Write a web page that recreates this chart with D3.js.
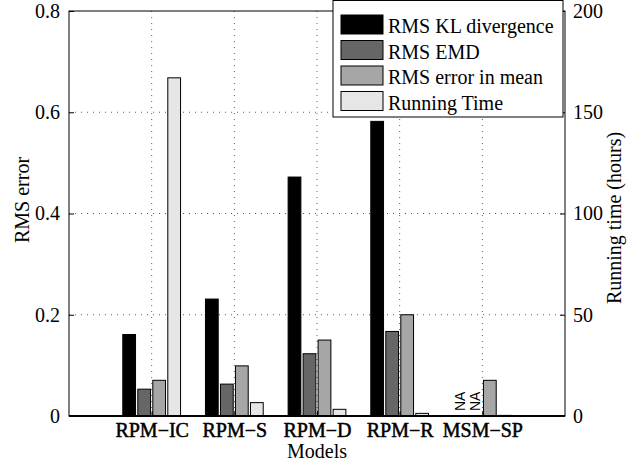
<!DOCTYPE html>
<html>
<head>
<meta charset="utf-8">
<script src="https://cdn.jsdelivr.net/npm/d3@7"></script>
<style>
  html, body { margin: 0; padding: 0; background: #fff; }
  svg { display: block; }
  svg text { font-family: "Liberation Serif", "Times New Roman", Times, serif; }
  svg text.na { font-family: "Liberation Sans", Arial, sans-serif; }
  .grid line { stroke: #000; stroke-dasharray: 1,5; stroke-width: 0.8; stroke-opacity: 0.8; }
</style>
</head>
<body>
<div id="chart"></div>
<script>
// Data
const categories = ["RPM\u2212IC", "RPM\u2212S", "RPM\u2212D", "RPM\u2212R", "MSM\u2212SP"];
const klValues   = [0.161, 0.231, 0.472, 0.582, null];
const emdValues  = [0.053, 0.063, 0.123, 0.167, null];
const meanValues = [0.0705, 0.099, 0.150, 0.200, 0.0705];
const timeValues = [167, 6.6, 3.3, 1.3, 0.3];   // hours, right axis
const leftTicks  = [0, 0.2, 0.4, 0.6, 0.8];
const rightTicks = [0, 50, 100, 150, 200];
const legendLabels = ["RMS KL divergence", "RMS EMD", "RMS error in mean", "Running Time"];

const COLORS = ["#000000", "#666666", "#a6a6a6", "#e6e6e6"];

const width = 641, height = 466;
const margin = { top: 11, right: 76, bottom: 50, left: 69 };
const iw = width - margin.left - margin.right;
const ih = height - margin.top - margin.bottom;

const svg = d3.select("#chart").append("svg")
  .attr("width", width).attr("height", height);

const g = svg.append("g").attr("transform", `translate(${margin.left},${margin.top})`);

// Scales
const x = d3.scaleLinear().domain([0, categories.length + 1]).range([0, iw]);
const y = d3.scaleLinear().domain([0, 0.8]).range([ih, 0]);
const y2 = d3.scaleLinear().domain([0, 200]).range([ih, 0]);

const groupW = (x(1) - x(0)) * 0.726;
const inner = d3.scaleBand().domain(d3.range(4))
  .range([-groupW / 2, groupW / 2])
  .paddingInner(0.15).paddingOuter(0.075);

// Grid (dotted)
g.append("g").attr("class", "grid")
  .selectAll("line").data(leftTicks.slice(1, -1)).join("line")
  .attr("x1", 0).attr("x2", iw).attr("y1", d => y(d)).attr("y2", d => y(d));
g.append("g").attr("class", "grid")
  .selectAll("line").data(d3.range(1, categories.length + 1)).join("line")
  .attr("x1", d => x(d)).attr("x2", d => x(d)).attr("y1", 0).attr("y2", ih);

// Bars
const series = [
  { values: klValues, scale: y },
  { values: emdValues, scale: y },
  { values: meanValues, scale: y },
  { values: timeValues, scale: y2 },
];

series.forEach((s, si) => {
  g.append("g").selectAll("rect")
    .data(s.values.map((v, i) => ({ v, i })).filter(d => d.v != null))
    .join("rect")
    .attr("x", d => x(d.i + 1) + inner(si))
    .attr("width", inner.bandwidth())
    .attr("y", d => s.scale(d.v))
    .attr("height", d => ih - s.scale(d.v))
    .attr("fill", COLORS[si])
    .attr("stroke", "#000")
    .attr("stroke-width", 1);
});

// NA markers for missing values
series.forEach((s, si) => {
  s.values.forEach((v, i) => {
    if (v != null) return;
    const cx = x(i + 1) + inner(si) + inner.bandwidth() / 2;
    g.append("text").attr("class", "na")
      .attr("transform", `translate(${cx + 5},${ih - 5}) rotate(-90)`)
      .attr("font-size", 14)
      .text("NA");
  });
});

// Axes box
g.append("rect")
  .attr("width", iw).attr("height", ih)
  .attr("fill", "none").attr("stroke", "#000").attr("stroke-width", 1);
g.append("line")
  .attr("x1", 0).attr("x2", iw).attr("y1", ih).attr("y2", ih)
  .attr("stroke", "#000").attr("stroke-width", 2.2);

// Left axis
g.append("g")
  .call(d3.axisLeft(y).tickValues(leftTicks).tickSize(-5).tickPadding(9)
    .tickFormat(d => d === 0 ? "0" : d3.format(".1f")(d)))
  .call(a => a.select(".domain").remove())
  .call(a => a.selectAll("text").attr("font-size", 20).attr("fill", "#000").attr("dy", "0.32em"));

// Right axis
g.append("g").attr("transform", `translate(${iw},0)`)
  .call(d3.axisRight(y2).tickValues(rightTicks).tickSize(-5).tickPadding(8))
  .call(a => a.select(".domain").remove())
  .call(a => a.selectAll("text").attr("font-size", 20).attr("fill", "#000").attr("dy", "0.32em"));

// Bottom axis (labels slightly heavier than regular in the reference)
g.append("g").attr("transform", `translate(0,${ih})`)
  .call(d3.axisBottom(x).tickValues(d3.range(1, categories.length + 1))
    .tickSize(-5).tickPadding(7).tickFormat(d => categories[d - 1]))
  .call(a => a.select(".domain").remove())
  .call(a => a.selectAll("text").attr("font-size", 20).attr("fill", "#000")
    .attr("stroke", "#000").attr("stroke-width", 0.5));

// Axis titles
g.append("text")
  .attr("x", iw / 2).attr("y", ih + 42)
  .attr("text-anchor", "middle").attr("font-size", 20)
  .text("Models");

svg.append("text")
  .attr("transform", `translate(29,200) rotate(-90)`)
  .attr("text-anchor", "middle").attr("font-size", 20)
  .text("RMS error");

svg.append("text")
  .attr("transform", `translate(621,218) rotate(-90)`)
  .attr("text-anchor", "middle").attr("font-size", 20)
  .text("Running time (hours)");

// Legend
const lg = svg.append("g").attr("transform", "translate(333,0.5)");
lg.append("rect")
  .attr("width", 230).attr("height", 116.5)
  .attr("fill", "#fff").attr("stroke", "#000").attr("stroke-width", 1);
legendLabels.forEach((label, i) => {
  const row = lg.append("g").attr("transform", `translate(8,${14.5 + i * 25.5})`);
  row.append("rect")
    .attr("width", 42).attr("height", 19)
    .attr("fill", COLORS[i]).attr("stroke", "#000").attr("stroke-width", 1);
  row.append("text")
    .attr("x", 47).attr("y", 18)
    .attr("font-size", 20)
    .text(label);
});
</script>
</body>
</html>
